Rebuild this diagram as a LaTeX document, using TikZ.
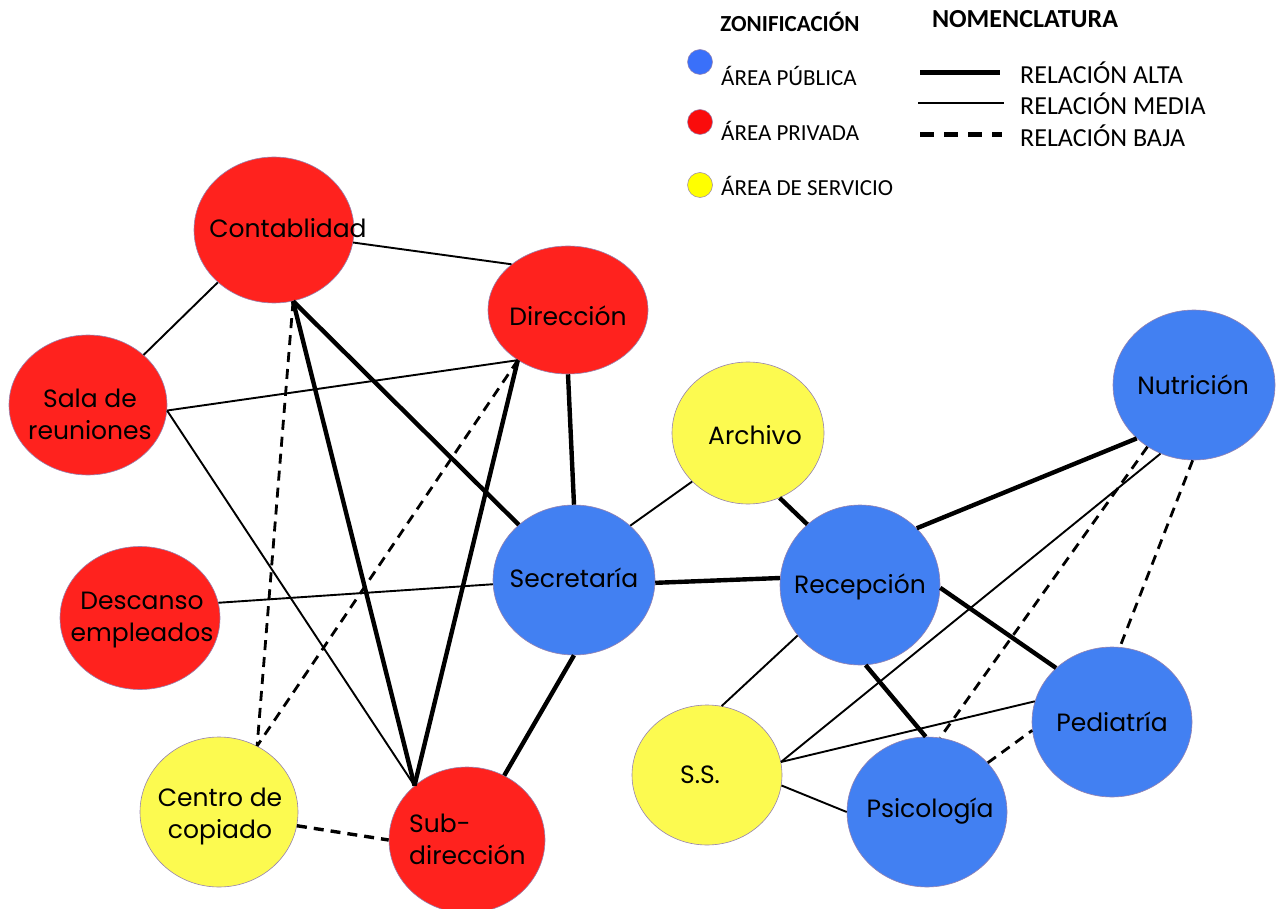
\documentclass[tikz,border=0pt]{standalone}
\usepackage{fontspec}
\setmainfont{Carlito}
\newfontfamily\handfont{Poppins}
\usetikzlibrary{shapes.geometric}
\definecolor{pubblue}{RGB}{66,128,242}
\definecolor{privred}{RGB}{255,34,30}
\definecolor{servyellow}{RGB}{252,250,80}
\definecolor{legblue}{RGB}{58,112,250}
\definecolor{legred}{RGB}{250,12,12}
\definecolor{legyellow}{RGB}{255,255,0}
\definecolor{rimcol}{RGB}{150,130,175}
\begin{document}
\begin{tikzpicture}[x=1pt,y=-1pt,
  room/.style={ellipse, draw=rimcol, line width=0.6pt, inner sep=0pt, minimum width=160pt, minimum height=146pt},
  pub/.style={room, fill=pubblue},
  priv/.style={room, fill=privred},
  serv/.style={room, fill=servyellow},
  roomtext/.style={font=\handfont\fontsize{25}{32}\selectfont, align=center, inner sep=0pt},
  legdot/.style={circle, draw=rimcol, line width=0.5pt, inner sep=0pt, minimum size=25pt},
  legtxt/.style={font=\fontsize{23}{25}\selectfont, anchor=west, inner sep=0pt},
  leghead/.style={font=\bfseries\fontsize{23}{25}\selectfont, inner sep=0pt},
  relalta/.style={line width=4.4pt},
  relmedia/.style={line width=1.9pt},
  relbaja/.style={line width=2.8pt, dash pattern=on 10pt off 7pt},
]
\useasboundingbox (0,0) rectangle (1282,909);

% rooms
\node[priv] (cont) at (274,230) {};
\node[priv, minimum height=128pt] (dir) at (568,310) {};
\node[priv, minimum width=158pt, minimum height=140pt] (sala) at (88,405) {};
\node[serv, minimum width=152pt, minimum height=142pt] (arch) at (748,433) {};
\node[pub, minimum width=162pt, minimum height=150pt] (nut) at (1194,385) {};
\node[pub, minimum width=162pt, minimum height=150pt] (sec) at (574,580) {};
\node[pub, minimum height=160pt] (rec) at (860,585) {};
\node[priv, minimum height=143pt] (desc) at (140,618) {};
\node[serv, minimum width=158pt, minimum height=150pt] (cent) at (219,812) {};
\node[priv, minimum width=156pt, minimum height=146pt] (sub) at (467,840) {};
\node[serv, minimum width=150pt, minimum height=140pt] (ss) at (707,775) {};
\node[pub, minimum height=150pt] (psi) at (927,812) {};
\node[pub, minimum height=150pt] (ped) at (1112,722) {};

% room texts
\node[roomtext] (tcont) at (288,228) {Contablidad};
\node[roomtext] (tdir) at (568,316) {Dirección};
\node[roomtext] (tsala) at (90,414) {Sala de\\reuniones};
\node[roomtext] (tarch) at (755,435) {Archivo};
\node[roomtext] (tnut) at (1193,385) {Nutrición};
\node[roomtext] (tsec) at (574,578) {Secretaría};
\node[roomtext] (trec) at (860,587) {Recepción};
\node[roomtext] (tdesc) at (142,620) {Descanso\\empleados};
\node[roomtext] (tcent) at (220,816) {Centro de\\copiado};
\node[roomtext, align=left, anchor=west] (tsub) at (409,839) {Sub-\\dirección};
\node[roomtext] (tss) at (700,775) {S.S.};
\node[roomtext] (tpsi) at (930,811) {Psicología};
\node[roomtext] (tped) at (1112,722) {Pediatría};

% relacion media
\draw[relmedia] (cont.-9) -- (dir.141);
\draw[relmedia] (cont.-137) -- (sala.42);
\draw[relmedia] (sala.-4) -- (dir.-135);
\draw[relmedia] (sala.-4) -- (sub.134);
\draw[relmedia] (desc.11) -- (sec.183);
\draw[relmedia] (sec.44) -- (arch.221);
\draw[relmedia] (rec.219) -- (ss.78);
\draw[relmedia] (ss.10) -- (nut.244);
\draw[relmedia] (ss.10) -- (ped.165);
\draw[relmedia] (ss.-8) -- (psi.180);

% relacion alta
\draw[relalta] (cont.-75) -- (sec.135);
\draw[relalta] (cont.-75) -- (sub.134);
\draw[relalta] (dir.-135) -- (sub.134);
\draw[relalta] (dir.-90) -- (sec.90);
\draw[relalta] (sec.-90) -- (sub.60);
\draw[relalta] (sec.-2) -- (rec.175);
\draw[relalta] (arch.-64) -- (rec.131);
\draw[relalta] (rec.45) -- (nut.223);
\draw[relalta] (rec.-2) -- (ped.136);
\draw[relalta] (rec.-86) -- (psi.91);

% relacion baja
\draw[relbaja] (cont.-75) -- (cent.60);
\draw[relbaja] (dir.-135) -- (cent.60);
\draw[relbaja, line width=3.4pt] (cent.-10) -- (sub.180);
\draw[relbaja] (nut.233) -- (psi.80);
\draw[relbaja] (nut.-91) -- (ped.84);
\draw[relbaja] (psi.39) -- (ped.186);

% legend: zonificacion
\node[leghead] (hzon) at (790,22) {ZONIFICACIÓN};
\node[legdot, fill=legblue] (dpub) at (700,62) {};
\node[legdot, fill=legred] (dpriv) at (700,122) {};
\node[legdot, fill=legyellow] (dserv) at (700,185) {};
\node[legtxt] (tpub) at (721,76) {ÁREA PÚBLICA};
\node[legtxt] (tpriv) at (721,131) {ÁREA PRIVADA};
\node[legtxt] (tserv) at (721,186) {ÁREA DE SERVICIO};

% legend: nomenclatura
\node[leghead, font=\bfseries\fontsize{26}{28}\selectfont] (hnom) at (1025,19) {NOMENCLATURA};
\coordinate (a1) at (920,73);
\coordinate (a2) at (1000,73);
\coordinate (m1) at (918,103);
\coordinate (m2) at (1004,103);
\coordinate (b1) at (920,135);
\coordinate (b2) at (1002,135);
\draw[line width=5pt] (a1) -- (a2);
\draw[line width=2pt] (m1) -- (m2);
\draw[line width=5pt, dash pattern=on 14pt off 10pt] (b1) -- (b2);
\node[legtxt, font=\fontsize{26}{28}\selectfont] (talta) at (1020,73) {RELACIÓN ALTA};
\node[legtxt, font=\fontsize{26}{28}\selectfont] (tmedia) at (1020,104) {RELACIÓN MEDIA};
\node[legtxt, font=\fontsize{26}{28}\selectfont] (tbaja) at (1020,136) {RELACIÓN BAJA};
\end{tikzpicture}
\end{document}
